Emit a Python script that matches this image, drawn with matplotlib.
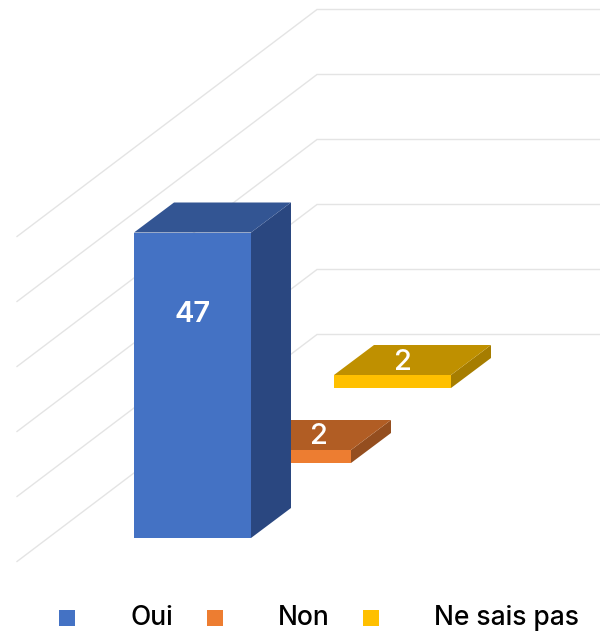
#!/usr/bin/env python3
import matplotlib
matplotlib.use('Agg')
from matplotlib import pyplot as plt
from matplotlib.patches import Polygon

categories = ['Oui', 'Non', 'Ne sais pas']
values = [47, 2, 2]
colors = ['#4472C4', '#ED7D31', '#FFC000']
top_colors = ['#335593', '#B15D24', '#BF9000']
side_colors = ['#2A4780', '#944E1F', '#A67D00']
grid_values = [0, 10, 20, 30, 40, 50]

# projection of the chart box, in pixels
FLOOR_X = 134
FLOOR_Y = 538
BAR_W = 117
STEP_X = 100
STEP_Y = -75
DEPTH_X = 40
DEPTH_Y = -30
PX_PER_UNIT = 6.5


def project(cat, value, right=0, depth=0):
	# cat = category position, value = bar height, right = 0/1 bar edge, depth = 0 front, 1 back
	x = FLOOR_X + cat * STEP_X + right * BAR_W + depth * DEPTH_X
	y = FLOOR_Y + cat * STEP_Y + depth * DEPTH_Y - value * PX_PER_UNIT
	return x, y


def draw_bar(ax, i, value):
	front = [project(i, 0), project(i, 0, 1), project(i, value, 1), project(i, value)]
	top = [project(i, value), project(i, value, 1), project(i, value, 1, 1), project(i, value, 0, 1)]
	side = [project(i, 0, 1), project(i, 0, 1, 1), project(i, value, 1, 1), project(i, value, 1)]
	z = 3 + (3 - i)
	ax.add_patch(Polygon(side, closed=True, fc=side_colors[i], ec='none', zorder=z))
	ax.add_patch(Polygon(top, closed=True, fc=top_colors[i], ec='none', zorder=z))
	ax.add_patch(Polygon(front, closed=True, fc=colors[i], ec='none', zorder=z))


def main():
	plt.rcParams['font.family'] = ['Inter', 'DejaVu Sans']
	fig = plt.figure(figsize=(6.0, 6.32), dpi=100)
	ax = fig.add_axes([0, 0, 1, 1])
	ax.set_xlim(0, 600)
	ax.set_ylim(632, 0)
	ax.axis('off')

	# gridlines: side wall then back wall
	for v in grid_values:
		y = 334.5 - v * PX_PER_UNIT
		ax.plot([17, 317, 600], [y + 227, y, y], color='#E4E4E4', lw=1.0, zorder=1,
			solid_joinstyle='miter')

	for i in range(len(categories) - 1, -1, -1):
		draw_bar(ax, i, values[i])

	# data labels
	label_pos = [(193, 314), (319, 437), (403, 362)]
	weights = ['semibold', 'medium', 'medium']
	for val, (x, y), w in zip(values, label_pos, weights):
		ax.text(x, y, str(val), color='white', fontsize=21, fontweight=w,
			ha='center', va='center', zorder=10)

	# legend
	legend_sq = [59, 207, 363]
	legend_txt = [131, 278, 434]
	for i, name in enumerate(categories):
		ax.add_patch(Polygon([(legend_sq[i], 610), (legend_sq[i] + 16, 610),
			(legend_sq[i] + 16, 626), (legend_sq[i], 626)], closed=True, fc=colors[i], ec='none'))
		ax.text(legend_txt[i], 625, name, color='black', fontsize=19, fontweight='medium',
			ha='left', va='baseline')

	fig.savefig('out.png', dpi=100)


if __name__ == '__main__':
	main()
